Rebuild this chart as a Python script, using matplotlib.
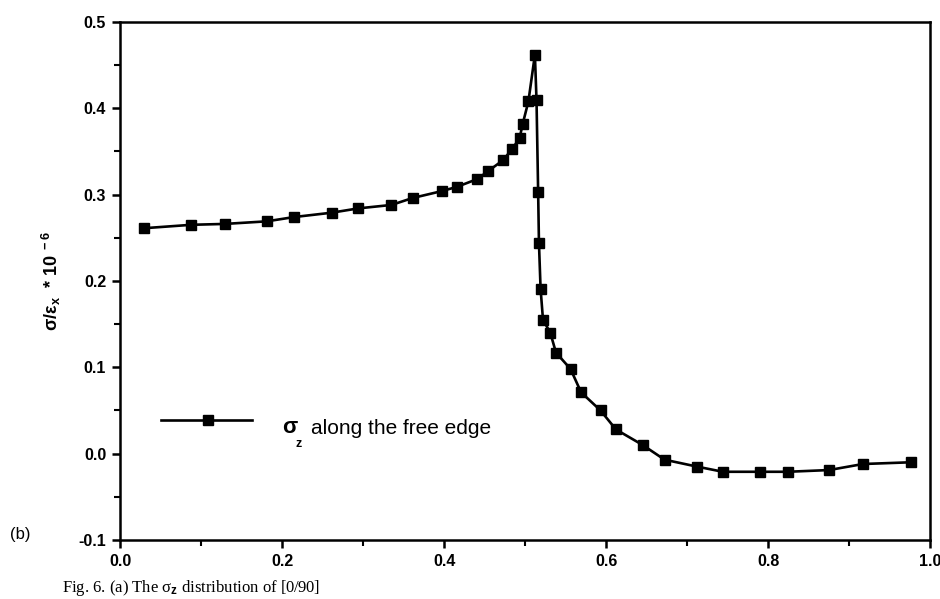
import numpy as np
import matplotlib
matplotlib.use("Agg")
import matplotlib.pyplot as plt

plt.rcParams['font.family'] = ['Liberation Sans', 'DejaVu Sans']
plt.rcParams['mathtext.fontset'] = 'custom'
plt.rcParams['mathtext.rm'] = 'Liberation Sans:bold'
plt.rcParams['mathtext.it'] = 'Liberation Sans:bold'
plt.rcParams['mathtext.bf'] = 'Liberation Sans:bold'

# sigma_z along the free edge (normalised position, stress / strain * 1e-6)
pos = [0.029, 0.088, 0.129, 0.181, 0.215, 0.261, 0.294, 0.335, 0.361, 0.397,
       0.416, 0.441, 0.454, 0.473, 0.484, 0.493, 0.497, 0.504, 0.512, 0.514,
       0.516, 0.517, 0.519, 0.522, 0.531, 0.538, 0.556, 0.569, 0.593, 0.612,
       0.645, 0.672, 0.712, 0.744, 0.790, 0.824, 0.875, 0.917, 0.976]
sigma_z = [0.261, 0.265, 0.266, 0.269, 0.274, 0.279, 0.284, 0.288, 0.296, 0.304,
           0.309, 0.318, 0.327, 0.340, 0.353, 0.365, 0.382, 0.408, 0.462, 0.409,
           0.303, 0.244, 0.191, 0.155, 0.140, 0.117, 0.098, 0.071, 0.050, 0.028,
           0.010, -0.007, -0.015, -0.021, -0.021, -0.021, -0.019, -0.012, -0.010]

xticks = [0.0, 0.2, 0.4, 0.6, 0.8, 1.0]
yticks = [-0.1, 0.0, 0.1, 0.2, 0.3, 0.4, 0.5]

fig = plt.figure(figsize=(9.4, 5.99), dpi=100)
ax = fig.add_axes([0.1277, 0.0985, 0.862, 0.865])

ax.plot(pos, sigma_z, color='black', lw=1.9, marker='s', ms=7,
        mfc='black', mec='black', clip_on=False)

ax.set_xlim(0, 1.0)
ax.set_ylim(-0.1, 0.5)
ax.set_xticks(xticks)
ax.set_yticks(yticks)
ax.set_xticks(np.arange(0.1, 1.0, 0.2), minor=True)
ax.set_yticks(np.arange(-0.05, 0.5, 0.1), minor=True)
ax.set_xticklabels([f"{t:.1f}" for t in xticks])
ax.set_yticklabels([f"{t:.1f}" for t in yticks])

for s in ax.spines.values():
    s.set_linewidth(1.8)
ax.tick_params(which='major', direction='out', length=6, width=1.8,
               labelsize=11.5, pad=4)
ax.tick_params(which='minor', direction='out', length=4, width=1.5)
ax.tick_params(top=False, right=False, which='both')
for lab in ax.get_xticklabels() + ax.get_yticklabels():
    lab.set_fontweight('bold')

ax.set_ylabel(r'σ/ε$_x$  * 10$^{\ -6}$', fontsize=13, fontweight='bold')
ax.yaxis.set_label_coords(-0.07, 0.5)

# hand-made legend entry
ax.plot([0.051, 0.163], [0.231, 0.231], transform=ax.transAxes,
        color='black', lw=1.9)
ax.plot([0.109], [0.231], transform=ax.transAxes, marker='s', ms=7,
        color='black')
ax.text(0.2, 0.217, 'σ', transform=ax.transAxes, fontsize=16,
        ha='left', va='center', fontweight='bold')
ax.text(0.217, 0.185, 'z', transform=ax.transAxes, fontsize=9,
        ha='left', va='center', fontweight='bold')
ax.text(0.236, 0.215, 'along the free edge', transform=ax.transAxes,
        fontsize=15, ha='left', va='center')

fig.text(20 / 940, 1 - 535 / 599, '(b)', fontsize=12, ha='center', va='center')
fig.text(62 / 940, 1 / 599, 'Fig. 6. (a) The σ$_z$ distribution of [0/90]',
         fontsize=12, family=['Liberation Serif', 'DejaVu Serif'],
         ha='left', va='bottom')

fig.savefig('out.png', dpi=100)
